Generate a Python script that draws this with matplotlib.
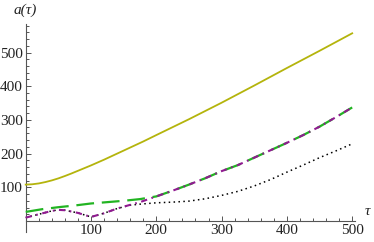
import matplotlib
matplotlib.use("Agg")
import matplotlib.pyplot as plt
from matplotlib.ticker import FixedLocator

# solid (yellow) curve
tau_yellow = [0, 10, 20, 30, 40, 50, 60, 70, 80, 90, 100, 120, 140, 160, 180, 200,
              250, 300, 350, 400, 450, 500]
a_yellow = [108, 109, 111.5, 115.5, 120.5, 126.5, 133.5, 141, 149, 157, 165, 182, 200, 218, 236, 255,
            302, 351, 402, 454, 505, 557]

# dashed (green) curve
tau_green = [0, 25, 50, 75, 100, 125, 150, 175, 200, 225, 250, 275, 300, 325, 350, 375, 400, 425, 450, 475, 500]
a_green = [27, 35, 41, 46, 52, 56, 60, 65, 73, 90, 108, 127, 148, 166, 188, 210, 232, 255, 280, 308, 337]

# dot-dashed (purple) curve
tau_purple = [0, 20, 40, 50, 60, 80, 100, 120, 140, 160, 175, 200, 225, 250, 275, 300, 325, 350, 375, 400, 425, 450, 475, 500]
a_purple = [10, 20, 30, 33, 32, 24, 12, 23, 37, 48, 56, 73, 90, 108, 127, 148, 166, 188, 210, 232, 255, 280, 308, 337]

# dotted (black) curve
tau_black = [0, 20, 40, 50, 60, 80, 100, 120, 140, 160, 175, 200, 225, 250, 275, 300, 325, 350, 375, 400, 425, 450, 475, 500]
a_black = [10, 20, 30, 33, 32, 24, 12, 23, 37, 47, 50, 54, 56, 59, 66, 76, 88, 104, 123, 145, 166, 188, 208, 229]

x_ticks = [100, 200, 300, 400, 500]
y_ticks = [100, 200, 300, 400, 500]
x_minor = [v for v in range(20, 501, 20) if v % 100]
y_minor = [v for v in range(20, 581, 20) if v % 100]

plt.rcParams["font.family"] = ["Liberation Serif", "DejaVu Serif"]

fig = plt.figure(figsize=(3.74, 2.42), dpi=100)
ax = fig.add_axes([0, 0, 1, 1])
ax.set_xlim(-39.4, 533.4)
ax.set_ylim(-62.3, 655.8)

ax.plot(tau_black, a_black, color="black", lw=1.1, dashes=(1, 2.2), zorder=2)
ax.plot(tau_green, a_green, color="#22b422", lw=1.6, dashes=(8, 3.5), zorder=3)
ax.plot(tau_purple, a_purple, color="#901a90", lw=1.5, dashes=(3, 2.2, 0.8, 2.2), zorder=4)
ax.plot(tau_yellow, a_yellow, color="#b4b40c", lw=1.3, zorder=5)

for side in ["top", "right"]:
    ax.spines[side].set_visible(False)
ax.spines["left"].set_position(("data", 0))
ax.spines["bottom"].set_position(("data", 0))
ax.spines["left"].set_bounds(-32, 585)
ax.spines["bottom"].set_bounds(0, 505)
for side in ["left", "bottom"]:
    ax.spines[side].set_color("#555555")
    ax.spines[side].set_linewidth(0.8)

ax.xaxis.set_major_locator(FixedLocator(x_ticks))
ax.yaxis.set_major_locator(FixedLocator(y_ticks))
ax.xaxis.set_minor_locator(FixedLocator(x_minor))
ax.yaxis.set_minor_locator(FixedLocator(y_minor))
ax.tick_params(which="both", direction="in", color="#555555", width=0.7)
ax.tick_params(which="major", length=3.5, labelsize=11, labelcolor="#222222")
ax.tick_params(which="minor", length=2)
ax.tick_params(axis="x", which="major", pad=2.5)
ax.tick_params(axis="y", which="major", pad=2)

ax.text(0, 626, "a(τ)", ha="center", va="center", fontsize=11, style="italic", color="#222222")
ax.text(524, 27, "τ", ha="center", va="center", fontsize=11, style="italic", color="#222222")

fig.savefig("out.png", dpi=100)
